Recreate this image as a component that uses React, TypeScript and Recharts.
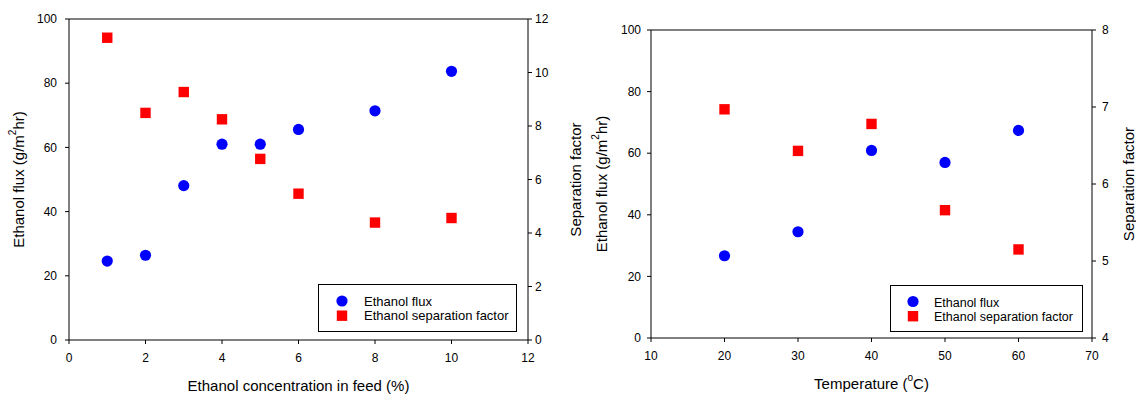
import React from 'react';
import { ScatterChart, Scatter, XAxis, YAxis, ReferenceLine, Legend } from 'recharts';

// Ethanol flux and separation factor versus ethanol concentration in the feed
const feedConcentration = [1, 2, 3, 4, 5, 6, 8, 10];
const fluxByConcentration = [24.6, 26.4, 48.1, 61.0, 61.0, 65.6, 71.4, 83.7];
const separationByConcentration = [11.3, 8.49, 9.27, 8.25, 6.77, 5.47, 4.39, 4.56];

// Ethanol flux and separation factor versus feed temperature
const temperatures = [20, 30, 40, 50, 60];
const fluxByTemperature = [26.7, 34.5, 60.9, 57.0, 67.4];
const separationByTemperature = [6.97, 6.43, 6.78, 5.66, 5.15];

const concentrationTicks = [0, 2, 4, 6, 8, 10, 12];
const temperatureTicks = [10, 20, 30, 40, 50, 60, 70];
const fluxTicks = [0, 20, 40, 60, 80, 100];
const separationTicksConcentration = [0, 2, 4, 6, 8, 10, 12];
const separationTicksTemperature = [4, 5, 6, 7, 8];

const seriesNames = ['Ethanol flux', 'Ethanol separation factor'];
const seriesColors = ['#0000FF', '#FF0000'];

const FONT = "'Liberation Sans', Arial, Helvetica, sans-serif";

const toPoints = (xs: number[], ys: number[]) => xs.map((x, i) => ({ x, y: ys[i] }));

const CircleMarker = (props: any) => (
  <circle cx={props.cx} cy={props.cy} r={5.6} fill={seriesColors[0]} />
);

const SquareMarker = (props: any) => (
  <rect x={props.cx - 5.2} y={props.cy - 5.2} width={10.4} height={10.4} fill={seriesColors[1]} />
);

type LegendLayout = {
  left: number;
  top: number;
  width: number;
  height: number;
  iconX: number;
  textX: number;
  fontSize: number;
  rows: number[];
};

const makeLegendContent = (lay: LegendLayout) => (props: any) => {
  const names: string[] =
    props && props.payload && props.payload.length
      ? props.payload.map((p: any) => String(p.value))
      : seriesNames;
  return (
    <svg width={lay.width} height={lay.height} style={{ display: 'block' }}>
      <rect x={0.5} y={0.5} width={lay.width - 1} height={lay.height - 1} fill="#fff" stroke="#000" strokeWidth={1} />
      <circle cx={lay.iconX} cy={lay.rows[0] - 5} r={5.6} fill={seriesColors[0]} />
      <rect x={lay.iconX - 5.2} y={lay.rows[1] - 4.3 - 5.2} width={10.4} height={10.4} fill={seriesColors[1]} />
      {names.map((n, i) => (
        <text key={n} x={lay.textX} y={lay.rows[i]} fontSize={lay.fontSize} fontFamily={FONT} fill="#000">
          {n}
        </text>
      ))}
    </svg>
  );
};

const FluxTitle = ({ cx, cy }: { cx: number; cy: number }) => (
  <text
    x={cx}
    y={cy}
    transform={`rotate(-90 ${cx} ${cy})`}
    textAnchor="middle"
    dominantBaseline="central"
    fontSize={15}
    fontFamily={FONT}
    fill="#000"
  >
    Ethanol flux (g/m
    <tspan dy={-6} fontSize={10}>2</tspan>
    <tspan dy={6}>hr)</tspan>
  </text>
);

const PlainTitle = ({ cx, cy, text, rotate }: { cx: number; cy: number; text: React.ReactNode; rotate?: boolean }) => (
  <text
    x={cx}
    y={cy}
    transform={rotate ? `rotate(-90 ${cx} ${cy})` : undefined}
    textAnchor="middle"
    dominantBaseline="central"
    fontSize={15}
    fontFamily={FONT}
    fill="#000"
  >
    {text}
  </text>
);

type PanelProps = {
  width: number;
  height: number;
  top: number;
  leftAxisWidth: number;
  rightAxisWidth: number;
  xAxisHeight: number;
  xDomain: [number, number];
  xTicks: number[];
  sepDomain: [number, number];
  sepTicks: number[];
  flux: { x: number; y: number }[];
  sep: { x: number; y: number }[];
  leftTickMargin: number;
  rightTickMargin: number;
  xTitle: React.ReactNode;
  leftTitleOffset: number;
  rightTitleOffset: number;
  xTitleOffset: number;
  legend: LegendLayout;
};

const tickStyle = { fill: '#000', fontSize: 12, fontFamily: FONT };
const lineStyle = { stroke: '#000', strokeWidth: 1 };

const Panel = (p: PanelProps) => (
  <ScatterChart width={p.width} height={p.height} margin={{ top: p.top, right: 0, bottom: 0, left: 0 }}>
    <XAxis
      type="number"
      dataKey="x"
      domain={p.xDomain}
      ticks={p.xTicks}
      interval={0}
      allowDataOverflow
      height={p.xAxisHeight}
      tickSize={4}
      tickMargin={9}
      tick={tickStyle}
      axisLine={lineStyle}
      tickLine={lineStyle}
      label={{
        content: (lp: any) => {
          const vb = lp.viewBox || {};
          return <PlainTitle cx={vb.x + vb.width / 2} cy={vb.y + p.xTitleOffset} text={p.xTitle} />;
        },
      }}
    />
    <YAxis
      yAxisId="flux"
      orientation="left"
      type="number"
      dataKey="y"
      domain={[0, 100]}
      ticks={fluxTicks}
      interval={0}
      allowDataOverflow
      width={p.leftAxisWidth}
      tickSize={4}
      tickMargin={p.leftTickMargin}
      tick={tickStyle}
      axisLine={lineStyle}
      tickLine={lineStyle}
      label={{
        content: (lp: any) => {
          const vb = lp.viewBox || {};
          return <FluxTitle cx={vb.x + p.leftTitleOffset} cy={vb.y + vb.height / 2} />;
        },
      }}
    />
    <YAxis
      yAxisId="sep"
      orientation="right"
      type="number"
      dataKey="y"
      domain={p.sepDomain}
      ticks={p.sepTicks}
      interval={0}
      allowDataOverflow
      width={p.rightAxisWidth}
      tickSize={4}
      tickMargin={p.rightTickMargin}
      tick={tickStyle}
      axisLine={lineStyle}
      tickLine={lineStyle}
      label={{
        content: (lp: any) => {
          const vb = lp.viewBox || {};
          return (
            <PlainTitle cx={vb.x + p.rightTitleOffset} cy={vb.y + vb.height / 2} text="Separation factor" rotate />
          );
        },
      }}
    />
    <ReferenceLine yAxisId="flux" y={100} stroke="#000" strokeWidth={1} />
    <Scatter
      name={seriesNames[0]}
      yAxisId="flux"
      data={p.flux}
      fill={seriesColors[0]}
      shape={CircleMarker}
      legendType="circle"
      isAnimationActive={false}
    />
    <Scatter
      name={seriesNames[1]}
      yAxisId="sep"
      data={p.sep}
      fill={seriesColors[1]}
      shape={SquareMarker}
      legendType="square"
      isAnimationActive={false}
    />
    <Legend
      layout="vertical"
      align="center"
      verticalAlign="middle"
      width={p.legend.width}
      height={p.legend.height}
      wrapperStyle={{
        position: 'absolute',
        left: p.legend.left,
        top: p.legend.top,
        width: p.legend.width,
        height: p.legend.height,
        margin: 0,
        padding: 0,
      }}
      content={makeLegendContent(p.legend)}
    />
  </ScatterChart>
);

export default function App() {
  return (
    <div style={{ position: 'absolute', left: 0, top: 0, width: 1136, height: 394, background: '#fff', fontFamily: FONT }}>
      <div style={{ position: 'absolute', left: 0, top: 0 }}>
        <Panel
          width={590}
          height={394}
          top={19}
          leftAxisWidth={69}
          rightAxisWidth={62}
          xAxisHeight={54}
          xDomain={[0, 12]}
          xTicks={concentrationTicks}
          sepDomain={[0, 12]}
          sepTicks={separationTicksConcentration}
          flux={toPoints(feedConcentration, fluxByConcentration)}
          sep={toPoints(feedConcentration, separationByConcentration)}
          leftTickMargin={8}
          rightTickMargin={3}
          xTitle="Ethanol concentration in feed (%)"
          leftTitleOffset={18}
          rightTitleOffset={47}
          xTitleOffset={45}
          legend={{ left: 318, top: 284, width: 199, height: 48, iconX: 24, textX: 46, fontSize: 13, rows: [22, 36] }}
        />
      </div>
      <div style={{ position: 'absolute', left: 590, top: 0 }}>
        <Panel
          width={546}
          height={394}
          top={30}
          leftAxisWidth={61}
          rightAxisWidth={44}
          xAxisHeight={56}
          xDomain={[10, 70]}
          xTicks={temperatureTicks}
          sepDomain={[4, 8]}
          sepTicks={separationTicksTemperature}
          flux={toPoints(temperatures, fluxByTemperature)}
          sep={toPoints(temperatures, separationByTemperature)}
          leftTickMargin={6}
          rightTickMargin={6}
          xTitle={
            <>
              Temperature (
              <tspan dy={-6} fontSize={10}>o</tspan>
              <tspan dy={6}>C)</tspan>
            </>
          }
          leftTitleOffset={11}
          rightTitleOffset={36}
          xTitleOffset={45}
          legend={{ left: 300, top: 285, width: 193, height: 47, iconX: 23, textX: 44, fontSize: 12.5, rows: [21.5, 35.5] }}
        />
      </div>
    </div>
  );
}
